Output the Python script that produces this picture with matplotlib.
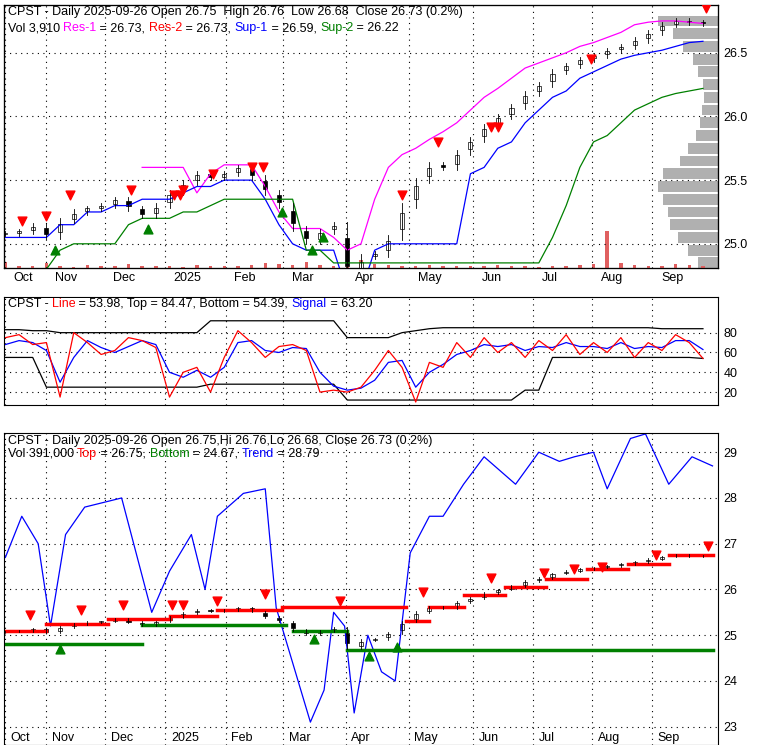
import matplotlib
matplotlib.use("Agg")
import matplotlib.pyplot as plt
import numpy as np

plt.rcParams['font.family'] = ['Liberation Sans', 'DejaVu Sans']

# weekly data, week 0 = start of Oct 2024
close = [25.08, 25.10, 25.14, 25.06, 25.18, 25.25, 25.28, 25.30, 25.35, 25.28, 25.22, 25.30,
         25.40, 25.48, 25.55, 25.52, 25.55, 25.60, 25.52, 25.40, 25.30, 25.12, 25.02, 25.10,
         25.15, 24.72, 24.90, 24.92, 25.05, 25.30, 25.50, 25.62, 25.60, 25.72, 25.82, 25.92,
         26.00, 26.08, 26.18, 26.25, 26.35, 26.40, 26.45, 26.48, 26.52, 26.55, 26.60, 26.66,
         26.72, 26.75, 26.74, 26.73]
volume = [20, 5, 8, 15, 6, 4, 10, 6, 8, 12, 5, 7, 6, 4, 9, 5, 8, 6, 10, 15, 12, 9, 20, 10,
          8, 30, 25, 12, 10, 8, 6, 9, 7, 5, 8, 6, 10, 5, 7, 4, 8, 6, 10, 12, 120, 15, 9, 6,
          8, 12, 10, 5]
res1 = [None]*10 + [25.60]*4 + [25.40, 25.55, 25.62, 25.62, 25.62, 25.45, 25.25, 25.12, 25.12, 25.12,
        25.05, 24.95, 25.00, 25.35, 25.60, 25.70, 25.75, 25.82, 25.88, 25.95, 26.05, 26.15,
        26.22, 26.30, 26.38, 26.42, 26.46, 26.50, 26.55, 26.58, 26.62, 26.66, 26.72, 26.74, 26.75, 26.75, 26.74, 26.73]
sup1 = [25.05, 25.05, 25.05, 25.05, 25.15, 25.15, 25.25, 25.25, 25.30, 25.30, 25.35, 25.35,
        25.35, 25.40, 25.45, 25.45, 25.50, 25.50, 25.50, 25.35, 25.15, 25.00, 24.95, 24.95,
        24.95, 24.62, 24.62, 24.95, 25.00, 25.00, 25.00, 25.00, 25.00, 25.00, 25.55, 25.60,
        25.75, 25.80, 25.95, 26.05, 26.15, 26.20, 26.30, 26.35, 26.40, 26.45, 26.48, 26.50,
        26.52, 26.55, 26.58, 26.59]
sup2 = [24.80, 24.80, 24.80, 24.80, 24.95, 25.00, 25.00, 25.00, 25.00, 25.15, 25.20, 25.20,
        25.20, 25.25, 25.25, 25.30, 25.35, 25.35, 25.35, 25.35, 25.35, 25.35, 24.95, 24.95,
        24.85, 24.85, 24.85, 24.85, 24.85, 24.85, 24.85, 24.85, 24.85, 24.85, 24.85, 24.85,
        24.85, 24.85, 24.85, 24.85, 25.05, 25.30, 25.60, 25.80, 25.85, 25.95, 26.05, 26.10,
        26.15, 26.18, 26.20, 26.22]
down_wk = [1.2, 3.0, 4.7, 9.2, 13.0, 12.3, 12.8, 15.2, 18.0, 18.8, 29.0, 31.6, 35.5, 36.0, 42.8, 51.2]
down_px = [25.18, 25.22, 25.38, 25.42, 25.42, 25.38, 25.38, 25.55, 25.60, 25.60, 25.38, 25.80, 25.92, 25.92, 26.45, 26.85]
up_wk = [3.6, 10.4, 20.2, 22.4, 23.2, 26.4]
up_px = [24.95, 25.12, 25.25, 24.95, 25.05, 24.60]
profile_px = [26.75, 26.65, 26.55, 26.45, 26.35, 26.25, 26.15, 26.05, 25.95, 25.85, 25.75, 25.65,
              25.55, 25.45, 25.35, 25.25, 25.15, 25.05, 24.95, 24.85]
profile_len = [60, 45, 35, 25, 20, 15, 14, 16, 18, 22, 30, 38, 55, 60, 55, 50, 48, 40, 30, 20]

# stochastic panel
line_val = [75, 78, 68, 70, 15, 80, 70, 58, 62, 75, 72, 65, 15, 40, 45, 20, 55, 82, 70, 55,
            66, 68, 62, 20, 22, 20, 25, 42, 62, 45, 10, 50, 45, 70, 55, 75, 60, 70, 55, 72,
            62, 78, 58, 70, 60, 75, 55, 70, 62, 78, 70, 54]
signal = [68, 72, 70, 62, 30, 55, 72, 65, 60, 66, 72, 68, 40, 35, 42, 35, 45, 70, 72, 62,
          60, 65, 64, 40, 26, 22, 24, 32, 50, 52, 25, 40, 48, 58, 62, 68, 66, 68, 62, 66,
          65, 70, 66, 66, 64, 70, 64, 66, 65, 72, 72, 63]
top_band = [83, 83, 82, 82, 80, 80, 80, 80, 80, 80, 80, 80, 80, 80, 80, 92, 92, 92, 92, 92,
            92, 92, 92, 92, 92, 75, 75, 75, 75, 80, 82, 84, 85, 85, 85, 85, 85, 85, 85, 85,
            85, 85, 85, 85, 85, 85, 85, 85, 84, 84, 84, 84]
bot_band = [55, 55, 55, 25, 25, 25, 25, 25, 25, 25, 25, 25, 25, 25, 25, 28, 28, 28, 28, 28,
            28, 28, 28, 28, 28, 12, 12, 12, 12, 12, 12, 12, 12, 12, 12, 12, 12, 12, 22, 22,
            55, 55, 55, 55, 55, 55, 55, 55, 55, 55, 55, 54]

# trend panel
trend_wk = [0, 1.2, 2.4, 3.3, 4.4, 5.8, 8.5, 10.7, 12.0, 13.6, 14.6, 15.5, 17.4, 19.0, 19.8,
            20.8, 22.3, 23.3, 24.0, 24.8, 25.5, 26.5, 27.5, 28.5, 29.6, 31.0, 32.0, 33.5, 35.0,
            37.3, 39.0, 40.5, 41.6, 43.0, 44.0, 45.7, 46.8, 48.5, 50.2, 51.7]
trend_val = [26.7, 27.6, 27.0, 25.2, 27.2, 27.8, 28.0, 25.5, 26.4, 27.2, 26.0, 27.6, 28.1, 28.2,
             25.6, 24.6, 23.1, 23.8, 25.5, 25.2, 23.3, 25.0, 24.2, 24.0, 26.8, 27.6, 27.6, 28.3,
             28.9, 28.3, 29.0, 28.8, 28.9, 29.0, 28.2, 29.3, 29.4, 28.3, 28.9, 28.7]
top_steps = [(0, 3, 25.10), (3, 7.5, 25.25), (7.5, 12, 25.35), (12, 15.5, 25.42), (15.5, 20.2, 25.55),
             (20.2, 29.3, 25.62), (29.3, 31, 25.30), (31, 33.5, 25.62), (33.5, 36.5, 25.88),
             (36.5, 39.5, 26.05), (39.5, 42.5, 26.22), (42.5, 45.5, 26.45), (45.5, 48.5, 26.55),
             (48.5, 51.7, 26.75)]
bot_steps = [(0, 10, 24.80), (10, 20.5, 25.22), (21, 25, 25.10), (25, 28.5, 24.67), (28.5, 51.7, 24.67)]
tdown_wk = [1.8, 5.5, 8.6, 12.2, 13.0, 15.5, 19.0, 24.5, 30.5, 35.5, 39.4, 41.6, 43.6, 47.6, 51.4]
tdown_px = [25.45, 25.55, 25.65, 25.65, 25.65, 25.75, 25.90, 25.75, 25.95, 26.25, 26.35, 26.45, 26.50, 26.75, 26.95]
tup_wk = [4.0, 22.6, 26.6, 28.6]
tup_px = [24.70, 24.92, 24.55, 24.75]

month_pos = [0.4, 3.4, 7.7, 12.1, 16.5, 20.7, 25.3, 29.9, 34.6, 39.0, 43.3, 47.7]
month_lbl = ['Oct', 'Nov', 'Dec', '2025', 'Feb', 'Mar', 'Apr', 'May', 'Jun', 'Jul', 'Aug', 'Sep']

W, H = 780, 745
fig = plt.figure(figsize=(7.8, 7.45), dpi=100)
def ax_at(x0, y0, x1, y1):
    return fig.add_axes([x0 / W, 1 - y1 / H, (x1 - x0) / W, (y1 - y0) / H])

wk = np.arange(len(close))
xlim = (-0.1, 52.1)

def style(ax, yticks):
    ax.set_xlim(*xlim)
    ax.yaxis.tick_right()
    ax.set_yticks(yticks)
    ax.tick_params(axis='y', length=0, labelsize=9, pad=4)
    ax.set_xticks([])
    for m in month_pos:
        ax.axvline(m - 0.4, color='black', lw=0.8, ls=(0, (1, 4)))
    for t in yticks:
        ax.axhline(t, color='black', lw=0.8, ls=(0, (1, 4)))

def candles(ax, c, scale):
    for i in range(len(c)):
        o = c[i - 1] if i else c[i]
        ax.plot([i, i], [min(o, c[i]) - 0.02 * scale, max(o, c[i]) + 0.02 * scale], color='black', lw=0.6)
        ax.bar(i, (abs(c[i] - o) + 0.01) * 0.5, bottom=min(o, c[i]) + abs(c[i] - o) * 0.25, width=0.3,
               color='white' if c[i] >= o else 'black', edgecolor='black', lw=0.5)

# panel 1
ax1 = ax_at(4, 5, 718, 268)
ax1.set_ylim(24.81, 26.875)
axp = ax1.twiny()
axp.set_xlim(714, 0)
axp.barh(profile_px, profile_len, height=0.085, color='#b0b0b0')
axp.set_xticks([])
axp.tick_params(left=False, labelleft=False, right=False, labelright=False)
axv = ax1.twinx()
axv.set_ylim(0, 850)
axv.bar(wk, volume, width=0.25, color='#e06060')
axv.set_yticks([])
ax1.set_zorder(3); ax1.patch.set_visible(False)
style(ax1, [25.0, 25.5, 26.0, 26.5])
ax1.set_yticklabels(['25.0', '25.5', '26.0', '26.5'])
ax1.plot(wk, res1, color='magenta', lw=0.9)
ax1.plot(wk, sup1, color='blue', lw=0.9)
ax1.plot(wk, sup2, color='green', lw=0.9)
candles(ax1, close, 1)
ax1.scatter(down_wk, down_px, marker='v', color='red', s=40, zorder=5)
ax1.scatter(up_wk, up_px, marker='^', color='green', s=40, zorder=5)
ax1.text(0.005, 0.995, 'CPST - Daily 2025-09-26 Open 26.75  High 26.76  Low 26.68  Close 26.73 (0.2%)',
         transform=ax1.transAxes, va='top', fontsize=9)
parts = [('Vol 3,910 ', 'black'), ('Res-1', 'magenta'), (' = 26.73, ', 'black'), ('Res-2', 'red'),
         (' = 26.73, ', 'black'), ('Sup-1', 'blue'), (' = 26.59, ', 'black'), ('Sup-2', 'green'), (' = 26.22', 'black')]
xt = 0.005
for s, c in parts:
    t = ax1.text(xt, 0.935, s, color=c, transform=ax1.transAxes, va='top', fontsize=9)
    fig.canvas.draw()
    xt = t.get_window_extent().transformed(ax1.transAxes.inverted()).x1

# month labels
for m, l in zip(month_pos, month_lbl):
    fig.text((4 + m * 13.7 + 4) / W, 1 - 278 / H, l, fontsize=9, va='center')

# panel 2
ax2 = ax_at(4, 297, 718, 405)
ax2.set_ylim(7, 116)
style(ax2, [20, 40, 60, 80])
ax2.plot(wk, top_band, color='black', lw=0.9)
ax2.plot(wk, bot_band, color='black', lw=0.9)
ax2.plot(wk, signal, color='blue', lw=0.9)
ax2.plot(wk, line_val, color='red', lw=0.9)
parts = [('CPST - ', 'black'), ('Line', 'red'), (' = 53.98, Top = 84.47, Bottom = 54.39, ', 'black'),
         ('Signal', 'blue'), (' = 63.20', 'black')]
xt = 0.005
for s, c in parts:
    t = ax2.text(xt, 0.99, s, color=c, transform=ax2.transAxes, va='top', fontsize=9,
                 bbox=dict(fc='white', ec='none', pad=0.3))
    fig.canvas.draw()
    xt = t.get_window_extent().transformed(ax2.transAxes.inverted()).x1

# panel 3
ax3 = ax_at(4, 433, 718, 745)
ax3.set_ylim(22.6, 29.42)
style(ax3, [23, 24, 25, 26, 27, 28, 29])
ax3.plot(trend_wk, trend_val, color='blue', lw=0.9)
for a, b, v in top_steps:
    ax3.plot([a, b], [v, v], color='red', lw=2.5)
for a, b, v in bot_steps:
    ax3.plot([a, b], [v, v], color='green', lw=2.5)
candles(ax3, close, 1)
ax3.scatter(tdown_wk, tdown_px, marker='v', color='red', s=40, zorder=5)
ax3.scatter(tup_wk, tup_px, marker='^', color='green', s=40, zorder=5)
ax3.text(0.005, 0.995, 'CPST - Daily 2025-09-26 Open 26.75,Hi 26.76,Lo 26.68, Close 26.73 (0.2%)',
         transform=ax3.transAxes, va='top', fontsize=9)
parts = [('Vol 391,000 ', 'black'), ('Top', 'red'), (' = 26.75, ', 'black'), ('Bottom', 'green'),
         (' = 24.67, ', 'black'), ('Trend', 'blue'), (' = 28.79', 'black')]
xt = 0.005
for s, c in parts:
    t = ax3.text(xt, 0.952, s, color=c, transform=ax3.transAxes, va='top', fontsize=9)
    fig.canvas.draw()
    xt = t.get_window_extent().transformed(ax3.transAxes.inverted()).x1
for m, l in zip(month_pos, month_lbl):
    ax3.text(m, 22.62, l, fontsize=9, va='bottom', zorder=6)

fig.savefig('out.png', dpi=100)
